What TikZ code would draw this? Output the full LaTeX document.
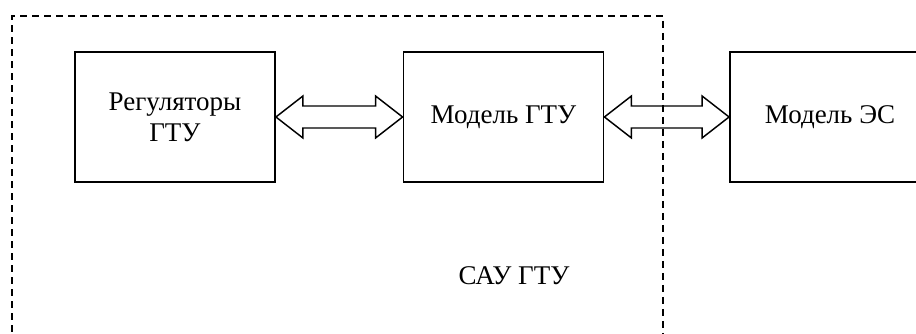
\documentclass[tikz,border=0pt]{standalone}
\usepackage{fontspec}
\setmainfont{Liberation Serif}
\usetikzlibrary{positioning, calc}

\begin{document}
\begin{tikzpicture}[x=0.75pt, y=0.75pt]

	% 定义样式
	\tikzset{
		block/.style = {
			rectangle, draw, line width=1.4pt,
			minimum width = 150pt,
			minimum height = 97.5pt,
			align=center,
			font=\fontsize{20.25}{23.3}\selectfont
		},
		dblarrow/.style = {draw, line width=1.1pt, line join=miter},
		frame/.style = {line width=1.1pt, dash pattern=on 5.25pt off 3.75pt}
	}

	% 参数设置
	\def \shaft {11}
	\def \head {21}
	\def \headlen {27}

	\useasboundingbox (0,0) rectangle (916,334);
	\clip (0,0) rectangle (916,334);

	% 三个方框
	\node[block] (reg) at (175,217) {Регуляторы\\ГТУ};
	\node[block] (gtu) at (503.5,217) {Модель ГТУ};
	\node[block] (es) at (830,217) {Модель ЭС};

	% 虚线框
	\draw[frame] (12,-10) |- (663,318) -- (663,-10);
	\node[font=\fontsize{20.25}{23.3}\selectfont] (sau) at (514,58) {САУ ГТУ};

	% 双向箭头
	\foreach \a/\b in {reg/gtu, gtu/es} {
		\draw[dblarrow] (\a.east) -- ++(\headlen,\head) -- ++(0,\shaft-\head)
		-- ($(\b.west)+(-\headlen,\shaft)$) -- ++(0,\head-\shaft) -- (\b.west)
		-- ++(-\headlen,-\head) -- ++(0,\head-\shaft)
		-- ($(\a.east)+(\headlen,-\shaft)$) -- ++(0,\shaft-\head) -- cycle;
	}
	
\end{tikzpicture}
\end{document}
